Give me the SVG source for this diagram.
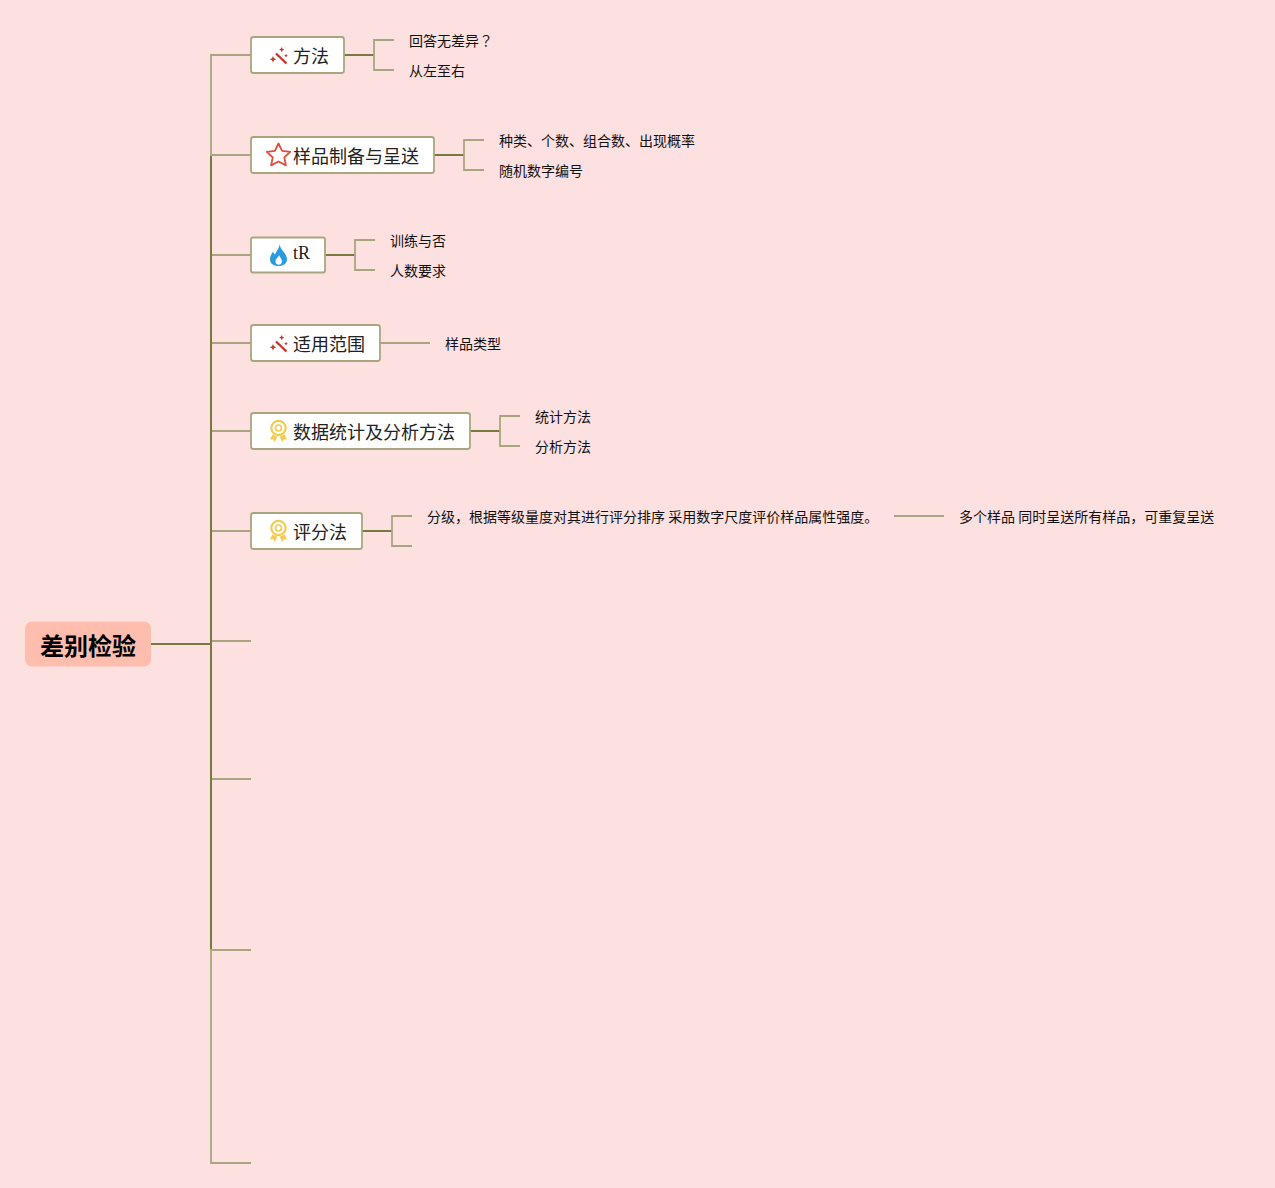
<svg xmlns="http://www.w3.org/2000/svg" width="1275" height="1188" viewBox="0 0 1275 1188">
<defs>
<style>
.l{fill:none;stroke:#a9a67f;stroke-width:1.800}
.d{fill:none;stroke:#77793f;stroke-width:2}
.n{fill:#fff;stroke:#a9a67f;stroke-width:1.800}
.t{font-family:"Noto Sans CJK SC",sans-serif;font-size:18px;fill:#222}
.tr{font-family:"Liberation Serif",serif;font-size:18px;fill:#222}
.s{font-family:"Noto Sans CJK SC",sans-serif;font-size:14px;fill:#111}
.r{font-family:"Noto Sans CJK SC",sans-serif;font-size:24px;font-weight:700;fill:#000}
</style>
<g id="wand"><path d="M276 53.500L286.500 63.500" stroke="#c9352a" stroke-width="2.400" fill="none"/><path d="M273 56l1 2.300 2.300 1-2.300 1-1 2.300-1-2.300-2.300-1 2.300-1zM281.700 47l.8 1.800 1.800.8-1.800.8-.8 1.800-.8-1.800-1.800-.8 1.800-.8zM286 53.800l.6 1.200 1.200.6-1.200.6-.6 1.200-.6-1.200-1.200-.6 1.200-.6z" fill="#c9352a"/></g>
<g id="medal"><circle cx="278.500" cy="428" r="7.200" fill="none" stroke="#f6cb52" stroke-width="2.200"/><circle cx="278.500" cy="428" r="3" fill="none" stroke="#f6cb52" stroke-width="1.700"/><path d="M272.500 434.500l-2.700 5 3.300-.2 1.700 2.700 2.500-5.200zM284.500 434.500l2.700 5-3.300-.2-1.700 2.700-2.500-5.200z" fill="#f6cb52"/></g>
</defs>
<rect width="1275" height="1188" fill="#fde0e0"/>
<g id="connectors">
<path class="l" d="M251 55H211V1163H251M211 155H251M211 255H251M211 343H251M211 431H251M211 531H251M211 641H251M211 779H251M211 950H251"/>
<path class="d" d="M211 156V949M151 644H211"/>
<path class="d" d="M344 55H374M434 155H464M325 255H355M470 431H500M362 531H392"/>
<path class="l" d="M394 40H374V70H394M484 140H464V170H484M375 240H355V270H375M520 416H500V446H520M412 516H392V546H412M380 343H430M894 516H944"/>
</g>
<g id="root"><rect x="25" y="621.500" width="126" height="45" rx="7" fill="#ffbdad"/><text class="r" x="40" y="655">差别检验</text></g>
<g id="n1"><rect class="n" x="251" y="37" width="93" height="36" rx="2.500"/><use href="#wand"/><text class="t" x="293" y="63">方法</text></g>
<g id="n2"><rect class="n" x="251" y="137" width="183" height="36" rx="2.500"/><path d="M278.500 143.500l3.600 7.300 8.100 1-5.900 5.600 1.600 8-7.400-3.900-7.400 3.900 1.600-8-5.900-5.600 8.100-1z" fill="none" stroke="#e24c3c" stroke-width="1.800" stroke-linejoin="round"/><text class="t" x="293" y="163">样品制备与呈送</text></g>
<g id="n3"><rect class="n" x="251" y="237.500" width="74" height="35" rx="2"/><path fill-rule="evenodd" d="M279.500 244c.5 4 3 6 5 9 1.500 2.300 2.500 4 2.500 6.500 0 3.800-3.500 6.500-8.500 6.500s-8.500-2.700-8.500-6.800c0-3 1.500-5.300 3-7.700.5 1.300 1 2.500 2 3 1.500-3.500 4.500-6.500 4.500-10.500zM279 255c-.3 2-3.500 3.700-3.500 6.500 0 2 1.500 3.300 3.200 3.300s3.300-1.300 3.300-3.300c0-2.800-2.500-4.300-3-6.500z" fill="#2a9be0"/><text class="tr" x="293" y="259">tR</text></g>
<g id="n4"><rect class="n" x="251" y="325" width="129" height="36" rx="2.500"/><use href="#wand" y="288"/><text class="t" x="293" y="351">适用范围</text></g>
<g id="n5"><rect class="n" x="251" y="413" width="219" height="36" rx="2.500"/><use href="#medal"/><text class="t" x="293" y="439">数据统计及分析方法</text></g>
<g id="n6"><rect class="n" x="251" y="513" width="111" height="36" rx="2.500"/><use href="#medal" y="100"/><text class="t" x="293" y="539">评分法</text></g>
<g id="leaves">
<text class="s" x="409" y="46">回答无差异<tspan font-family="Noto Sans CJK TC, sans-serif">？</tspan></text>
<text class="s" x="409" y="76">从左至右</text>
<text class="s" x="499" y="146">种类、个数、组合数、出现概率</text>
<text class="s" x="499" y="176">随机数字编号</text>
<text class="s" x="390" y="246">训练与否</text>
<text class="s" x="390" y="276">人数要求</text>
<text class="s" x="445" y="349">样品类型</text>
<text class="s" x="535" y="422">统计方法</text>
<text class="s" x="535" y="452">分析方法</text>
<text class="s" x="427" y="522">分级，根据等级量度对其进行评分排序 采用数字尺度评价样品属性强度。</text>
<text class="s" x="959" y="522">多个样品 同时呈送所有样品，可重复呈送</text>
</g>
</svg>
